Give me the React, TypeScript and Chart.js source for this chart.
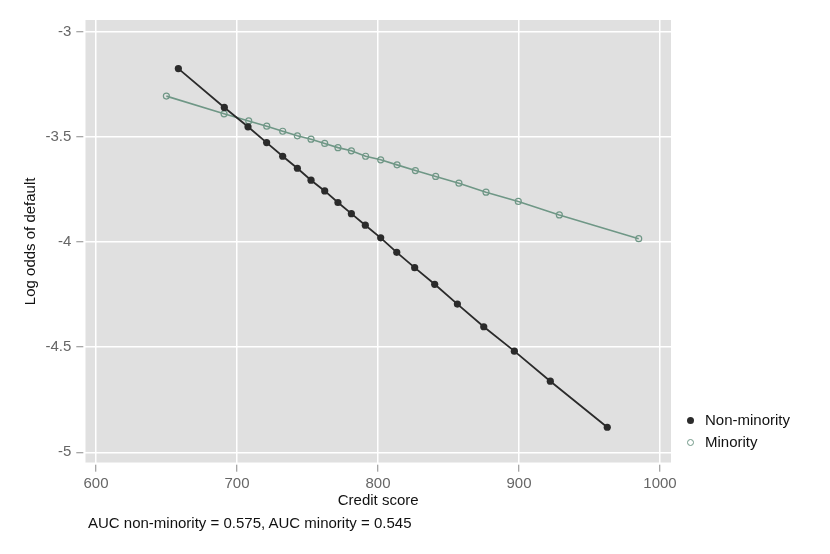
import React, { useRef, useEffect } from 'react';
import { Chart, registerables } from 'chart.js';
Chart.register(...registerables);

// значения
const seriesNames = ['Non-minority', 'Minority'];
const nonMinorityX = [658.4, 691.0, 707.8, 721.0, 732.4, 742.8, 752.5, 762.2, 771.6, 781.1, 791.0, 801.9, 813.3, 826.0, 840.2, 856.3, 875.0, 896.7, 922.2, 962.6];
const nonMinorityY = [-3.175, -3.36, -3.452, -3.527, -3.592, -3.649, -3.706, -3.757, -3.812, -3.865, -3.92, -3.98, -4.049, -4.122, -4.201, -4.295, -4.403, -4.519, -4.662, -4.881];
const minorityX = [649.9, 690.8, 708.3, 721.1, 732.4, 742.8, 752.5, 762.2, 771.6, 781.1, 791.2, 801.9, 813.5, 826.5, 840.9, 857.4, 876.6, 899.5, 928.6, 984.9];
const minorityY = [-3.306, -3.39, -3.424, -3.449, -3.473, -3.495, -3.511, -3.531, -3.551, -3.566, -3.592, -3.609, -3.633, -3.66, -3.688, -3.72, -3.763, -3.807, -3.871, -3.984];
const xTicks = [600, 700, 800, 900, 1000];
const yTicks = [-3, -3.5, -4, -4.5, -5];
const xTitle = 'Credit score';
const yTitle = 'Log odds of default';
const caption = 'AUC non-minority = 0.575, AUC minority = 0.545';

const FONT = '"Liberation Sans", Arial, Helvetica, sans-serif';
const DARK = '#2b2b2b';
const GREEN = '#6f9786';

// серый фон области графика + зазор между засечками и рамкой
const plotBg = {
  id: 'plotBg',
  beforeDraw(chart: any) {
    const { ctx, chartArea: a } = chart;
    ctx.save();
    ctx.fillStyle = '#e0e0e0';
    ctx.fillRect(a.left, a.top, a.right - a.left, a.bottom - a.top);
    ctx.restore();
  },
  afterDraw(chart: any) {
    const { ctx, chartArea: a } = chart;
    ctx.save();
    ctx.fillStyle = '#ffffff';
    ctx.fillRect(a.left - 2, a.top, 2, a.bottom - a.top);
    ctx.fillRect(a.left, a.bottom, a.right - a.left, 2);
    ctx.restore();
  },
};

const App: React.FC = () => {
  const canvasRef = useRef<HTMLCanvasElement>(null);
  const chartRef = useRef<Chart | null>(null);

  useEffect(() => {
    if (!canvasRef.current) return;
    if (chartRef.current) chartRef.current.destroy();
    const ctx = canvasRef.current.getContext('2d');
    if (!ctx) return;

    chartRef.current = new Chart(ctx, {
      type: 'scatter',
      data: {
        datasets: [
          {
            label: seriesNames[0],
            data: nonMinorityX.map((x, i) => ({ x, y: nonMinorityY[i] })),
            showLine: true,
            borderColor: DARK,
            backgroundColor: DARK,
            borderWidth: 1.8,
            pointRadius: 3.6,
            pointBorderWidth: 0,
          },
          {
            label: seriesNames[1],
            data: minorityX.map((x, i) => ({ x, y: minorityY[i] })),
            showLine: true,
            borderColor: GREEN,
            backgroundColor: 'transparent',
            borderWidth: 1.6,
            pointRadius: 3,
            pointBorderWidth: 1.2,
            pointBorderColor: GREEN,
          },
        ],
      },
      plugins: [plotBg],
      options: {
        animation: false,
        responsive: true,
        maintainAspectRatio: false,
        layout: { padding: { left: 0, top: 20, right: 159, bottom: 0 } },
        plugins: { legend: { display: false }, tooltip: { enabled: false } },
        scales: {
          x: {
            type: 'linear',
            min: 592.4,
            max: 1007.8,
            afterBuildTicks: (axis: any) => {
              axis.ticks = xTicks.map((v) => ({ value: v }));
            },
            afterFit: (axis: any) => {
              axis.height = 91.3;
            },
            border: { display: false },
            grid: { color: '#ffffff', lineWidth: 1.5, tickLength: 9, tickColor: '#8a8a8a', tickWidth: 1 },
            ticks: {
              color: '#666666',
              font: { family: FONT, size: 15 },
              padding: 3,
              maxRotation: 0,
              callback: (v: any) => String(v),
            },
            title: {
              display: true,
              text: xTitle,
              color: '#111111',
              font: { family: FONT, size: 15 },
              padding: { top: 0, bottom: 44 },
            },
          },
          y: {
            type: 'linear',
            min: -5.0495,
            max: -2.944,
            afterBuildTicks: (axis: any) => {
              axis.ticks = yTicks.map((v) => ({ value: v }));
            },
            afterFit: (axis: any) => {
              axis.width = 85.3;
            },
            border: { display: false },
            grid: { color: '#ffffff', lineWidth: 1.5, tickLength: 9, tickColor: '#8a8a8a', tickWidth: 1 },
            ticks: {
              color: '#666666',
              font: { family: FONT, size: 15 },
              padding: 5,
              callback: (v: any) => String(v),
            },
            title: {
              display: true,
              text: yTitle,
              color: '#111111',
              font: { family: FONT, size: 15 },
              padding: { top: 22, bottom: 0 },
            },
          },
        },
      },
    });

    return () => {
      chartRef.current?.destroy();
      chartRef.current = null;
    };
  }, []);

  const textStyle: React.CSSProperties = { fontFamily: FONT, fontSize: 15, lineHeight: '18px', color: '#111111', position: 'absolute', whiteSpace: 'nowrap' };

  return (
    <div style={{ position: 'absolute', left: 0, top: 0, width: 830, height: 554, background: '#ffffff' }}>
      <canvas ref={canvasRef}></canvas>
      {/* легенда */}
      <div style={{ ...textStyle, left: 705, top: 411 }}>{seriesNames[0]}</div>
      <div style={{ position: 'absolute', left: 686.5, top: 416.5, width: 7, height: 7, borderRadius: '50%', background: DARK }}></div>
      <div style={{ ...textStyle, left: 705, top: 433 }}>{seriesNames[1]}</div>
      <div style={{ position: 'absolute', left: 687, top: 439, width: 5, height: 5, borderRadius: '50%', border: `1px solid ${GREEN}` }}></div>
      {/* подпись */}
      <div style={{ ...textStyle, left: 88, top: 514 }}>{caption}</div>
    </div>
  );
};

export default App;
